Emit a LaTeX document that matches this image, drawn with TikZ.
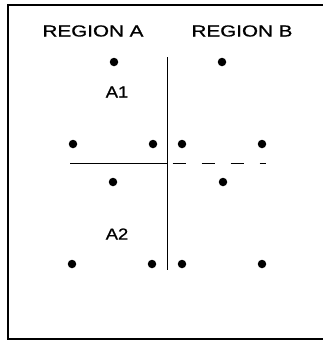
\documentclass[tikz,border=0pt]{standalone}
\usepackage{fontspec}
\setmainfont{Liberation Sans}
\newfontfamily\lblfont{Liberation Sans}[FakeBold=0.8]
\begin{document}
\begin{tikzpicture}[x=1pt,y=-1pt,
  dot/.style={circle,fill=black,inner sep=0pt,minimum size=8.5pt},
  lbl/.style={inner sep=0pt,font=\lblfont\fontsize{16}{17}\selectfont},
  ln/.style={line width=1.5pt},
  dsh/.style={line width=1.5pt,dash pattern=on 13pt off 16pt,dash phase=-5pt}]
\useasboundingbox (0,0) rectangle (323,341);
% frame
\coordinate (ftr) at (323,5);
\coordinate (ftl) at (8,5);
\coordinate (fbl) at (8,339);
\coordinate (fbr) at (323,339);
\draw[ln] (ftr) -- (ftl) -- (fbl) -- (fbr);
% labels
\node[lbl] (ra) at (93,31) {\scalebox{1.29}[1]{REGION A}};
\node[lbl] (rb) at (242,31) {\scalebox{1.29}[1]{REGION B}};
\node[lbl] (a1) at (117,92) {\scalebox{1.15}[1]{A1}};
\node[lbl] (a2) at (117,234) {\scalebox{1.15}[1]{A2}};
% lines
\coordinate (vt) at (167.5,57);
\coordinate (vb) at (167.5,270);
\coordinate (hl) at (70,163.5);
\coordinate (hm) at (167.5,163.5);
\coordinate (hr) at (266,163.5);
\draw[ln] (vt) -- (vb);
\draw[ln] (hl) -- (hm);
\draw[dsh] (hm) -- (hr);
% dots
\node[dot] (d1) at (114,62) {};
\node[dot] (d2) at (222,62) {};
\node[dot] (d3) at (73,144) {};
\node[dot] (d4) at (153,144) {};
\node[dot] (d5) at (182,144) {};
\node[dot] (d6) at (262,144) {};
\node[dot] (d7) at (113,182) {};
\node[dot] (d8) at (223,182) {};
\node[dot] (d9) at (72,264) {};
\node[dot] (d10) at (152,264) {};
\node[dot] (d11) at (182,264) {};
\node[dot] (d12) at (262,264) {};
\end{tikzpicture}
\end{document}
